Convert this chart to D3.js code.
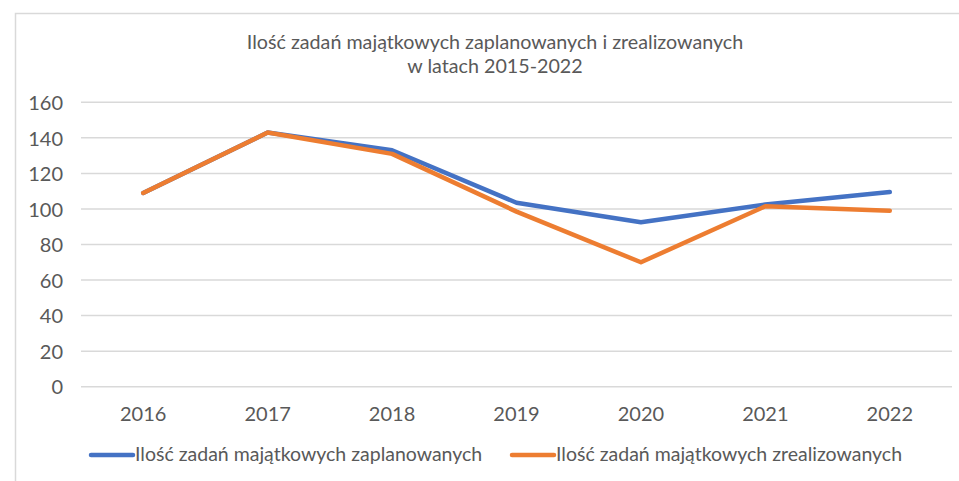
<html>
<head>
  <meta charset="utf-8">
  <title>zadania majatkowe</title>
</head>
<style>
  body {
    padding: 0em;
    margin: 0em;
    background-color: #fff;
  }
</style>
<body>
  <div id="chart"></div>
</body>
<script src="https://cdn.jsdelivr.net/npm/d3@7"></script>
<script>
  // dane
  const years = ["2016", "2017", "2018", "2019", "2020", "2021", "2022"]
  const planned = [109, 143, 133, 103.5, 92.5, 102.5, 109.5]
  const realized = [109, 143, 131, 98.5, 70, 101.5, 99]
  const yTicks = [0, 20, 40, 60, 80, 100, 120, 140, 160]
  const titleLines = ["Ilość zadań majątkowych zaplanowanych i zrealizowanych", "w latach 2015-2022"]
  const seriesNames = ["Ilość zadań majątkowych zaplanowanych", "Ilość zadań majątkowych zrealizowanych"]
  const colors = ["#4472C4", "#ED7D31"]

  const width = 959
  const height = 481
  const font = "Lato, 'Open Sans', sans-serif"

  const svg = d3.select("#chart").append("svg")
    .attr("width", width)
    .attr("height", height)
    .style("font-family", font)

  // ramka
  svg.append("rect")
    .attr("x", 15.5).attr("y", 13.5)
    .attr("width", 960).attr("height", 480)
    .attr("fill", "#fff")
    .attr("stroke", "#d9d9d9")
    .attr("stroke-width", 1.5)

  const x = d3.scaleBand()
    .domain(years)
    .range([81, 952])

  const y = d3.scaleLinear()
    .domain([0, 160])
    .range([386.7, 102.3])

  // tytul
  svg.append("text")
    .attr("x", 495).attr("y", 49)
    .attr("text-anchor", "middle")
    .attr("fill", "#595959")
    .style("font-size", "19.7px")
    .selectAll("tspan").data(titleLines).join("tspan")
    .attr("x", 495)
    .attr("dy", (d, i) => i == 0 ? 0 : 24)
    .text(d => d)

  // siatka
  svg.append("g").selectAll("line").data(yTicks).join("line")
    .attr("x1", 81).attr("x2", 952)
    .attr("y1", d => y(d)).attr("y2", d => y(d))
    .attr("stroke", "#d9d9d9")
    .attr("stroke-width", 1.5)

  // osie
  const yAxis = svg.append("g")
    .attr("transform", "translate(63,0)")
    .call(d3.axisLeft(y).tickValues(yTicks).tickSize(0).tickPadding(0))
  yAxis.select(".domain").remove()
  yAxis.selectAll("text")
    .attr("fill", "#595959")
    .style("font-size", "20px")
    .style("font-family", font)
    .attr("dy", "0.36em")

  const xAxis = svg.append("g")
    .attr("transform", "translate(0,386.7)")
    .call(d3.axisBottom(x).tickSize(0).tickPadding(0))
  xAxis.select(".domain").remove()
  xAxis.selectAll("text")
    .attr("fill", "#595959")
    .style("font-size", "20px")
    .style("font-family", font)
    .attr("y", 34.5)
    .attr("dy", 0)

  // linie
  const line = d3.line()
    .x((d, i) => x(years[i]) + x.bandwidth() / 2)
    .y(d => y(d))

  ;[planned, realized].forEach((s, k) => {
    svg.append("path")
      .datum(s)
      .attr("d", line)
      .attr("fill", "none")
      .attr("stroke", colors[k])
      .attr("stroke-width", 4.5)
      .attr("stroke-linejoin", "round")
      .attr("stroke-linecap", "round")
  })

  // legenda
  const legendX = [91, 512]
  const leg = svg.append("g").selectAll("g").data(seriesNames).join("g")
    .attr("transform", (d, i) => `translate(${legendX[i]},455)`)
  leg.append("line")
    .attr("x1", 0).attr("x2", 42)
    .attr("stroke", (d, i) => colors[i])
    .attr("stroke-width", 4.5)
    .attr("stroke-linecap", "round")
  leg.append("text")
    .attr("x", 44).attr("y", 5.5)
    .attr("fill", "#595959")
    .style("font-size", "19.5px")
    .text(d => d)
</script>
</html>
